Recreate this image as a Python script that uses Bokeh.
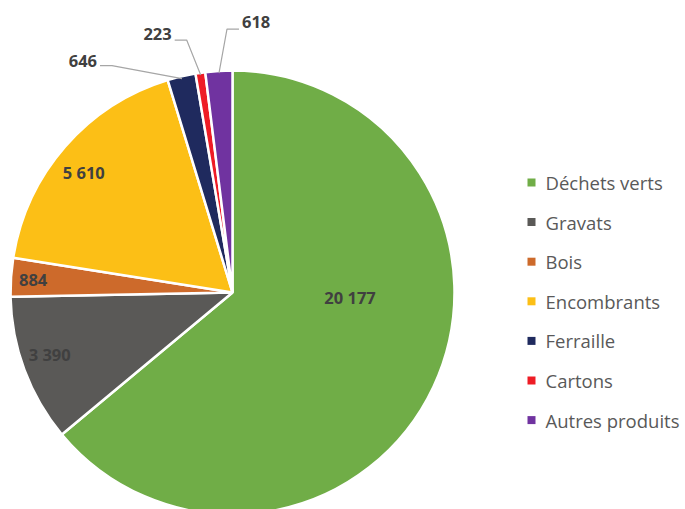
import math
from bokeh.plotting import figure
from bokeh.models import Range1d, ColumnDataSource
from bokeh.embed import file_html
from bokeh.resources import INLINE
from bokeh.core.properties import value

# ---- data ----
categories = ["Déchets verts", "Gravats", "Bois", "Encombrants", "Ferraille", "Cartons", "Autres produits"]
values = [20177, 3390, 884, 5610, 646, 223, 618]
value_labels = ["20 177", "3 390", "884", "5 610", "646", "223", "618"]
colors = ["#70AD47", "#5A5957", "#CD6A2B", "#FCBF16", "#1F2A5E", "#EE1C25", "#7033A0"]

# ---- layout / style ----
W, H = 685, 509
cx, cy, R = 232, H - 292, 222
inside_idx = [0, 1, 2, 3]
inside_rf = [0.53, 0.87, 0.90, 0.86]
inside_dang = [-22.6, 1.6, -0.3, -2.2]
outside_idx = [4, 5, 6]
outside_off = [(-70, 13), (-14, 35), (8, 44)]   # elbow offset from slice edge (px, y up)
outside_side = [-1, -1, 1]
outside_dy = [5, 6, 7]

p = figure(width=W, height=H, x_range=Range1d(0, W), y_range=Range1d(0, H),
           output_backend="svg", toolbar_location=None,
           x_axis_type=None, y_axis_type=None, min_border=0)
p.outline_line_color = None
p.grid.visible = False
p.background_fill_color = "white"
p.border_fill_color = "white"

total = float(sum(values))
starts, ends, mids = [], [], []
acc = 0.0
for v in values:
    a0 = acc / total * 360.0
    acc += v
    a1 = acc / total * 360.0
    starts.append(a0)
    ends.append(a1)
    mids.append((a0 + a1) / 2.0)

src = ColumnDataSource(dict(
    start=[math.radians(90 - a) for a in starts],
    end=[math.radians(90 - a) for a in ends],
    color=colors,
))
p.wedge(x=cx, y=cy, radius=R, start_angle="start", end_angle="end", direction="clock",
        fill_color="color", line_color="white", line_width=2.5, source=src)

# inside labels
lx, ly, lt = [], [], []
for k, i in enumerate(inside_idx):
    a = math.radians(mids[i] + inside_dang[k])
    r = R * inside_rf[k]
    lx.append(cx + r * math.sin(a))
    ly.append(cy + r * math.cos(a))
    lt.append(value_labels[i])
p.text(x=lx, y=ly, text=lt, text_font=value("Open Sans"), text_font_style="bold",
       text_font_size="16.5px", text_color="#404040", text_align="center", text_baseline="middle")

# outside labels with leader lines
xs, ys = [], []
olx, oly, olt, ola = [], [], [], []
for k, i in enumerate(outside_idx):
    a = math.radians(mids[i])
    ex = cx + R * 0.99 * math.sin(a)
    ey = cy + R * 0.99 * math.cos(a)
    bx = ex + outside_off[k][0]
    by = ey + outside_off[k][1]
    hx = bx + outside_side[k] * 12
    xs.append([ex, bx, hx])
    ys.append([ey, by, by])
    olx.append(hx + outside_side[k] * 3)
    oly.append(by + outside_dy[k])
    olt.append(value_labels[i])
    ola.append("left" if outside_side[k] > 0 else "right")
p.multi_line(xs=xs, ys=ys, line_color="#A6A6A6", line_width=1.2)
p.text(x=olx, y=oly, text=olt, text_align=ola, text_font=value("Open Sans"), text_font_style="bold",
       text_font_size="16.5px", text_color="#404040", text_baseline="middle")

# legend
leg_x_sq, leg_x_tx = 531, 545
leg_y0, leg_dy = H - 182, 39.6
leg_y = [leg_y0 - leg_dy * i for i in range(len(categories))]
p.scatter(x=[leg_x_sq] * len(categories), y=leg_y, marker="square", size=8,
          fill_color=colors, line_color=None)
p.text(x=[leg_x_tx] * len(categories), y=leg_y, text=categories, text_font=value("Open Sans"),
       text_font_size="18.5px", text_color="#595959", text_align="left", text_baseline="middle")

open("out.html", "w").write(file_html(p, INLINE))
